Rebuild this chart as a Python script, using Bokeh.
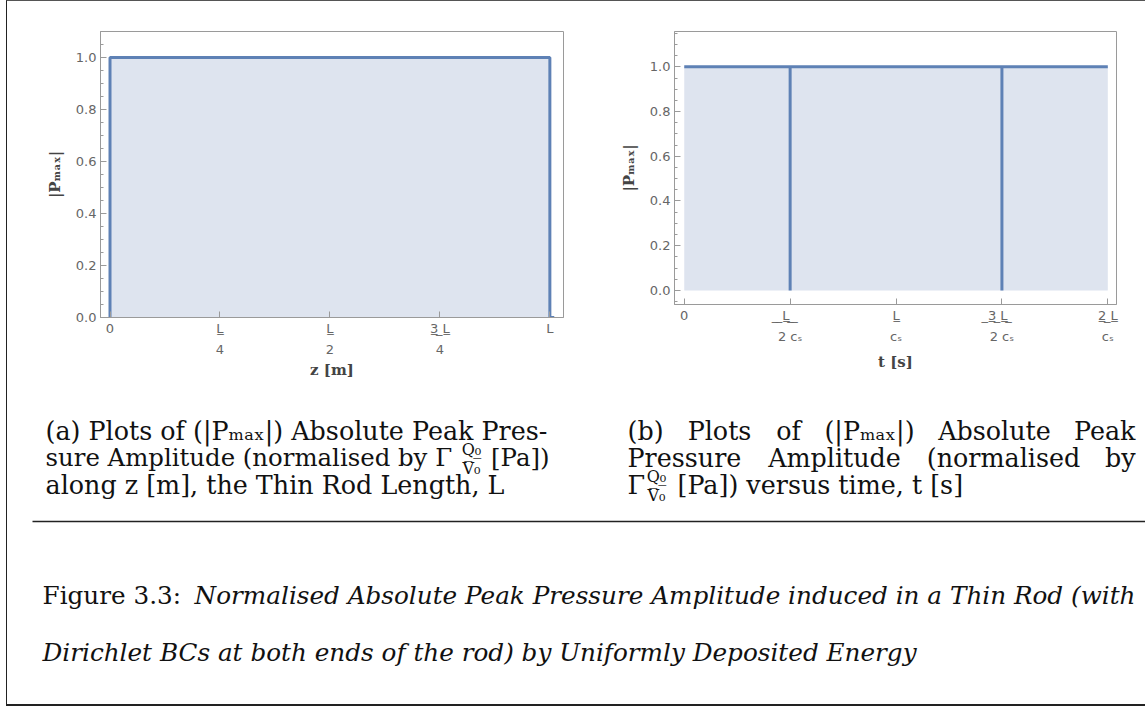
from bokeh.plotting import figure
from bokeh.layouts import column, row
from bokeh.models import Range1d, FixedTicker
from bokeh.core.properties import value
from bokeh.embed import file_html
from bokeh.resources import INLINE

# ---------------- data ----------------
z_pos = [0.0, 0.0, 1.0, 1.0, 1.01]
z_pmax = [0.0, 1.0, 1.0, 0.0, 0.0]

t_pos = [0.0, 0.5, 0.5, 0.5, 1.5, 1.5, 1.5, 2.0]
t_pmax = [1.0, 1.0, 0.0, 1.0, 1.0, 0.0, 1.0, 1.0]

z_ticks = [0.0, 0.25, 0.5, 0.75, 1.0]
z_tick_labels = ["0", "L\u0332\n4", "L\u0332\n2", "3\u0332 \u0332L\u0332\n4", "L"]

t_ticks = [0.0, 0.5, 1.0, 1.5, 2.0]
t_tick_labels = ["0",
                 " \u0332 \u0332L\u0332 \u0332 \u0332\n2 c\u209b",
                 "L\u0332\nc\u209b",
                 " \u03323\u0332 \u0332L\u0332 \u0332\n2 c\u209b",
                 "2\u0332 \u0332L\u0332\nc\u209b"]

y_ticks = [0.0, 0.2, 0.4, 0.6, 0.8, 1.0]
y_tick_labels = ["0.0", "0.2", "0.4", "0.6", "0.8", "1.0"]
y_minor_a = [0.05, 0.1, 0.15, 0.25, 0.3, 0.35, 0.45, 0.5, 0.55, 0.65, 0.7, 0.75,
             0.85, 0.9, 0.95, 1.05, 1.1]
y_minor_b = [-0.05] + y_minor_a + [1.15]

LINE = "#5E81B5"
FILL = "#DEE4EF"
FRAME = "#9a9a9a"


def style(p, xticks, xlabels, yminor, xlab_standoff):
    p.outline_line_color = FRAME
    p.outline_line_width = 1
    p.grid.visible = False
    p.xaxis.ticker = FixedTicker(ticks=xticks, minor_ticks=[])
    p.xaxis.major_label_overrides = dict(zip(xticks, xlabels))
    p.yaxis.ticker = FixedTicker(ticks=y_ticks, minor_ticks=yminor)
    p.yaxis.major_label_overrides = dict(zip(y_ticks, y_tick_labels))
    for ax in (p.xaxis[0], p.yaxis[0]):
        ax.axis_line_color = FRAME
        ax.major_tick_line_color = FRAME
        ax.minor_tick_line_color = FRAME
        ax.major_tick_in = 6
        ax.major_tick_out = 0
        ax.minor_tick_in = 3
        ax.minor_tick_out = 0
        ax.major_label_text_font = "DejaVu Sans"
        ax.major_label_text_font_size = "13px"
        ax.major_label_text_color = "#666666"
        ax.axis_label_text_font = "DejaVu Serif"
        ax.axis_label_text_font_style = "bold"
        ax.axis_label_text_font_size = "15px"
        ax.axis_label_text_color = "#444444"
    p.yaxis.major_label_standoff = 4
    p.yaxis.axis_label_standoff = 9
    p.xaxis.major_label_standoff = 3
    p.xaxis.major_label_text_line_height = 1.45
    p.xaxis.axis_label_standoff = xlab_standoff


# ---------------- plot (a) ----------------
pa = figure(frame_width=463, frame_height=286,
            min_border_left=93, min_border_right=27,
            min_border_top=25, min_border_bottom=78,
            x_range=Range1d(-0.0216, 1.031), y_range=Range1d(0, 1.1),
            toolbar_location=None, output_backend="svg")
pa.varea(x=z_pos, y1=[0.0] * len(z_pos), y2=z_pmax, fill_color=FILL)
pa.line(x=z_pos, y=z_pmax, line_color=LINE, line_width=3)
pa.xaxis.axis_label = "z [m]"
pa.yaxis.axis_label = "|P\u2098\u2090\u2093|"
style(pa, z_ticks, z_tick_labels, y_minor_a, 1)

# ---------------- plot (b) ----------------
pb = figure(frame_width=442, frame_height=273,
            min_border_left=84, min_border_right=29,
            min_border_top=30, min_border_bottom=86,
            x_range=Range1d(-0.046, 2.041), y_range=Range1d(-0.063, 1.158),
            toolbar_location=None, output_backend="svg")
pb.varea(x=t_pos, y1=[0.0] * len(t_pos), y2=[1.0] * len(t_pos), fill_color=FILL)
pb.line(x=t_pos, y=t_pmax, line_color=LINE, line_width=3)
pb.xaxis.axis_label = "t [s]"
pb.yaxis.axis_label = "|P\u2098\u2090\u2093|"
style(pb, t_ticks, t_tick_labels, y_minor_b, 6)

# ---------------- captions ----------------
pc = figure(frame_width=1138, frame_height=314, min_border=0,
            x_range=Range1d(7, 1145), y_range=Range1d(704, 390),
            x_axis_type=None, y_axis_type=None,
            toolbar_location=None, output_backend="svg")
pc.grid.visible = False
pc.outline_line_color = None

SERIF = value("DejaVu Serif")
TXT = "#111111"
FS = "25.4px"
FS2 = "24.4px"
FSF = "16px"
FSC = "24.7px"


def put(x, y, s, align="left", style="normal", size=FS):
    pc.text(x=[x], y=[y], text=[s], text_font=SERIF, text_font_size=size,
            text_font_style=style, text_align=align, text_baseline="alphabetic",
            text_color=TXT)


# (a) sub-caption
put(45, 430, "(a) Plots of (|P\u2098\u2090\u2093|) Absolute Peak Pres-")
put(45, 457, "sure Amplitude (normalised by \u0393", size=FS2)
put(471, 449, "Q\u0332\u2080\u0332", align="center", size=FSF)
put(471, 468, "V\u2080", align="center", size=FSF)
put(549, 457, "[Pa])", align="right", size=FS2)
put(45, 484, "along z [m], the Thin Rod Length, L")

# (b) sub-caption (justified)
put(627, 430, "(b)")
put(719, 430, "Plots", align="center")
put(788, 430, "of", align="center")
put(869, 430, "(|P\u2098\u2090\u2093|)", align="center")
put(994, 430, "Absolute", align="center")
put(1135, 430, "Peak", align="right")
put(627, 457, "Pressure")
put(834, 457, "Amplitude", align="center")
put(1003, 457, "(normalised", align="center")
put(1135, 457, "by", align="right")
put(627, 484, "\u0393")
put(656, 476, "Q\u0332\u2080\u0332", align="center", size=FSF)
put(656, 495, "V\u2080", align="center", size=FSF)
put(677, 484, "[Pa]) versus time, t [s]")

pc.segment(x0=[32], y0=[521], x1=[1145], y1=[521], line_color="#222222", line_width=1.5)

# figure caption
put(42, 595, "Figure 3.3:", size=FSC)
put(1135, 595, "Normalised Absolute Peak Pressure Amplitude induced in a Thin Rod (with",
    align="right", style="italic", size=FSC)
put(42, 652, "Dirichlet BCs at both ends of the rod) by Uniformly Deposited Energy",
    style="italic", size=FSC)

layout = column(row(pa, pb), pc,
                styles={"border-left": "1px solid #222222",
                        "border-top": "1px solid #555555",
                        "border-bottom": "2px solid #222222",
                        "margin-left": "6px"})

open("out.html", "w").write(file_html(layout, INLINE))
